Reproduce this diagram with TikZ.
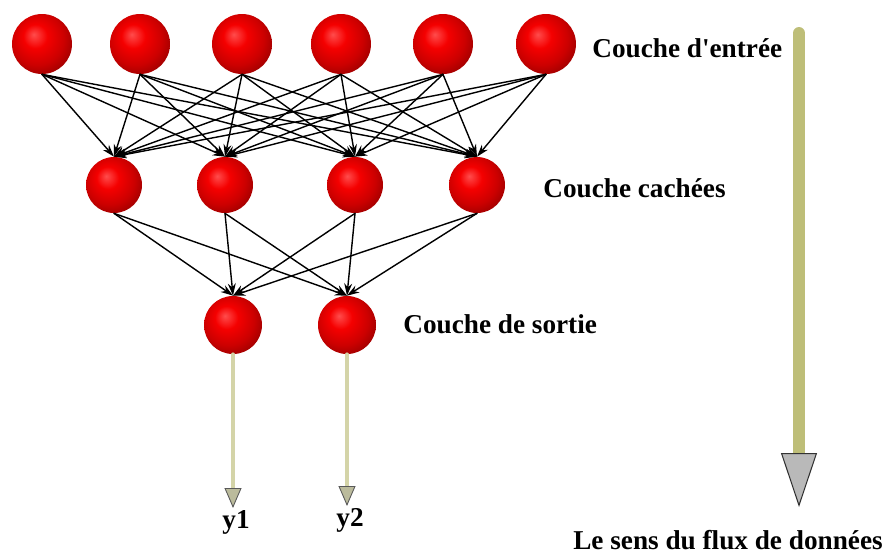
\documentclass[tikz,border=0pt]{standalone}
\usepackage{fontspec}
\newfontfamily\diagfont{Liberation Serif}
\usetikzlibrary{arrows.meta}
\pgfdeclareradialshading{red_ball}{\pgfpoint{-7bp}{8bp}}{color(0bp)=(red!70!white); color(10bp)=(red!96!black); color(22bp)=(red!80!black); color(34bp)=(red!55!black); color(50bp)=(red!40!black)}
\definecolor{shaft_col}{RGB}{190,190,120}
\definecolor{out_col}{RGB}{212,212,168}
\begin{document}
\begin{tikzpicture}[x=0.02cm, y=-0.02cm, >=Stealth, line cap=round, line join=round]
	\tikzset{
		neuron_base/.style={circle, shading=red_ball, inner sep=0pt},
		input_node/.style={neuron_base, minimum size=1.2cm},
		hidden_node/.style={neuron_base, minimum size=1.12cm},
		output_node/.style={neuron_base, minimum size=1.16cm},
		link/.style={-{Stealth[length=7pt,width=4.5pt]}, line width=0.8pt},
		out_arrow/.style={draw=out_col, line width=2.2pt, -{Triangle[width=0.34cm,length=0.4cm,fill=out_col!70!gray,color=gray!70!black,line width=0.5pt]}},
		flow_arrow/.style={draw=shaft_col, line width=0.24cm, -{Triangle[width=0.72cm,length=1.08cm,fill=gray!55,color=gray!40!black,line width=0.6pt]}},
		layer_label/.style={anchor=west, inner sep=0pt},
		every node/.style={font=\diagfont\bfseries\fontsize{15.5}{18}\selectfont}
	}
	\useasboundingbox (0,0) rectangle (890,556);
	% les trois couches
	\foreach \x [count=\i] in {42,140,242,341,443,546}
		\node[input_node] (in\i) at (\x,44) {};
	\foreach \x [count=\j] in {114,225,355,477}
		\node[hidden_node] (hid\j) at (\x,185) {};
	\foreach \x [count=\k] in {233,347}
		\node[output_node] (out\k) at (\x,325) {};
	% connexions
	\foreach \i in {1,...,6}
		\foreach \j in {1,...,4}
			\draw[link] (in\i.south) -- (hid\j.north);
	\foreach \j in {1,...,4}
		\foreach \k in {1,2}
			\draw[link] (hid\j.south) -- (out\k.north);
	% sorties
	\node[anchor=north, inner sep=1pt] (y1) at (236,508) {y1};
	\node[anchor=north, inner sep=1pt] (y2) at (350,506) {y2};
	\draw[out_arrow] (out1.south) -- (out1.south |- y1.north);
	\draw[out_arrow] (out2.south) -- (out2.south |- y2.north);
	% libellés
	\node[layer_label] (lbl_in) at (592,48) {Couche d'entrée};
	\node[layer_label] (lbl_hid) at (543,188) {Couche cachées};
	\node[layer_label] (lbl_out) at (403,324) {Couche de sortie};
	% sens du flux
	\coordinate (flow_top) at (799,33);
	\coordinate (flow_end) at (799,507);
	\draw[flow_arrow] (flow_top) -- (flow_end);
	\node (lbl_flow) at (728,540) {Le sens du flux de données};
\end{tikzpicture}
\end{document}
